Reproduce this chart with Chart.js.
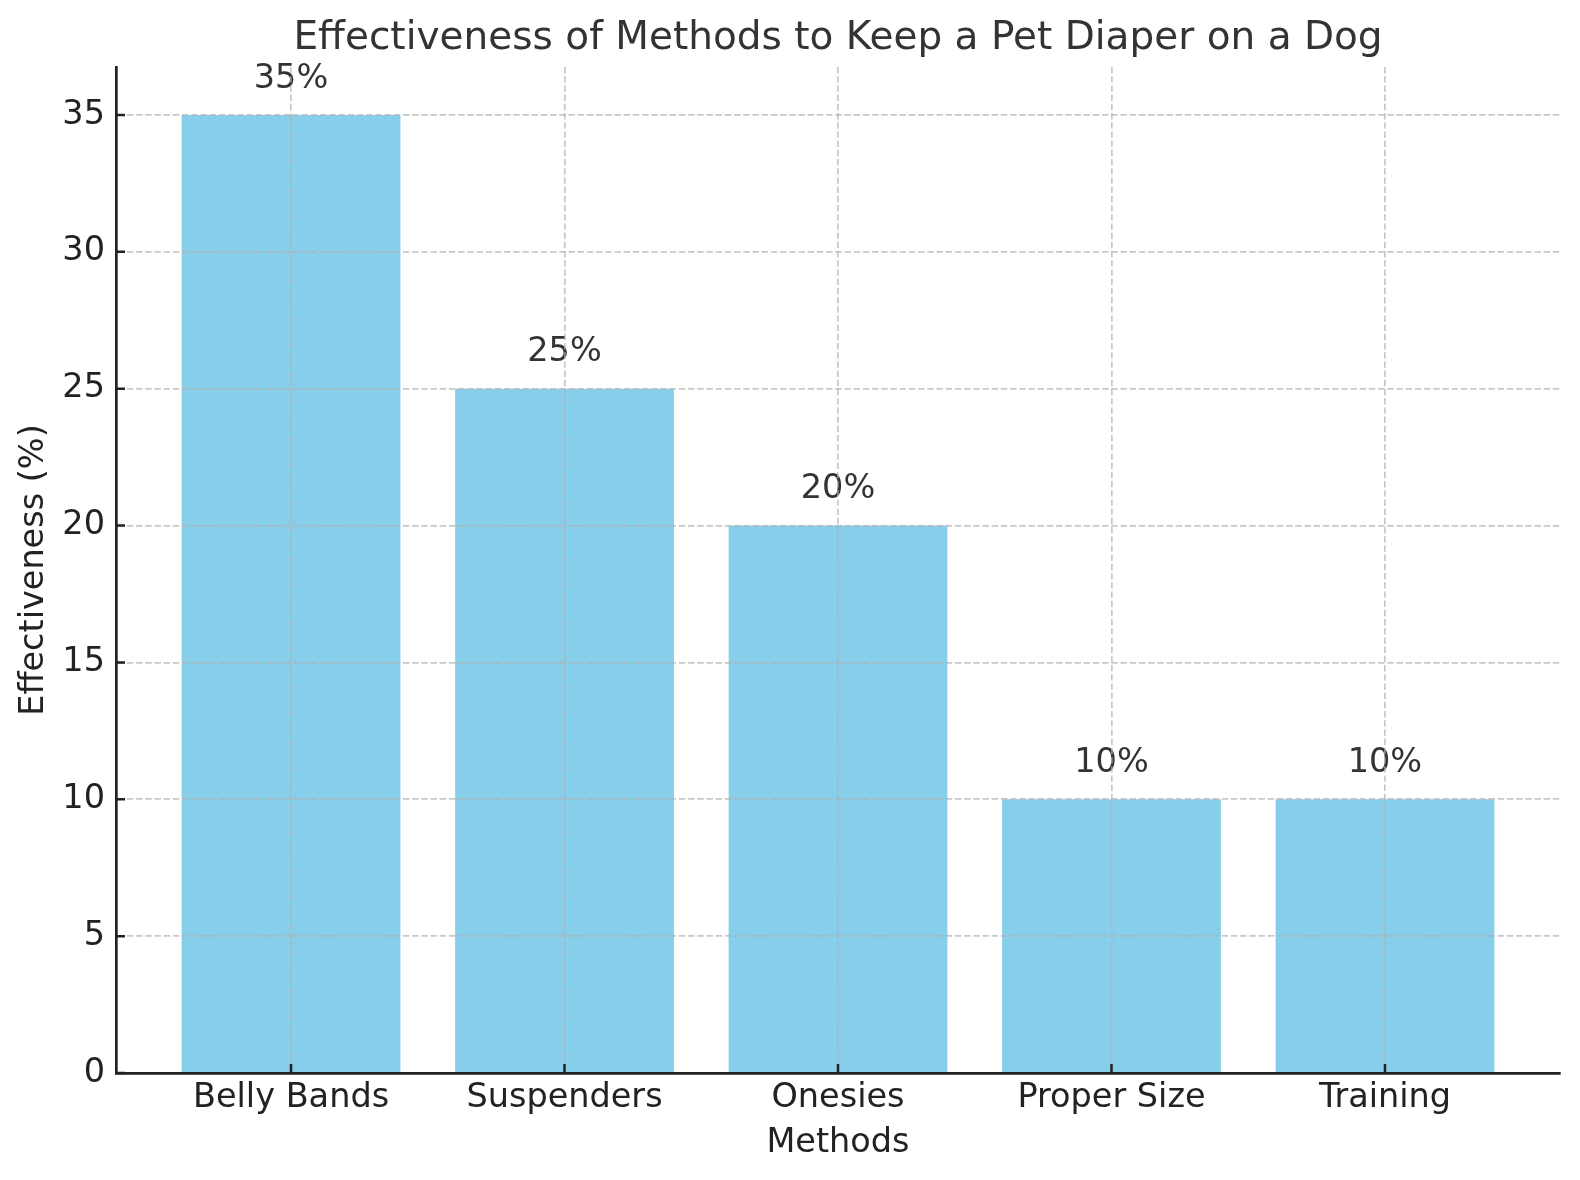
<!DOCTYPE html>
<html>
<head>
<meta charset="utf-8">
<script src="https://cdn.jsdelivr.net/npm/chart.js@4.4.1/dist/chart.umd.min.js"></script>
<style>
  html, body { margin: 0; padding: 0; background: #fff; }
  #wrap { width: 1580px; height: 1180px; }
</style>
</head>
<body>
<div id="wrap"><canvas id="chart" width="1580" height="1180"></canvas></div>
<script>
const methods = ['Belly Bands', 'Suspenders', 'Onesies', 'Proper Size', 'Training'];
const effectiveness = [35, 25, 20, 10, 10];
const chartTitle = 'Effectiveness of Methods to Keep a Pet Diaper on a Dog';
const xTitle = 'Methods';
const yTitle = 'Effectiveness (%)';

const FONT = 'DejaVu Sans';
const tickFont = { family: FONT, size: 33.5, weight: 'normal', lineHeight: 1.2 };
const gridColor = 'rgba(176,176,176,0.7)';
// no grid line on top of the axis spine itself
const gridAt = c => (c.tick && c.tick.value === 0 ? 'rgba(0,0,0,0)' : gridColor);

// matplotlib style: ticks pointing into the plot
const innerTicks = {
  id: 'innerTicks',
  afterDraw(chart) {
    const { ctx, chartArea, scales: { x, y } } = chart;
    ctx.save();
    ctx.strokeStyle = '#222';
    ctx.lineWidth = 2.5;
    ctx.beginPath();
    x.ticks.forEach(t => {
      const px = x.getPixelForValue(t.value);
      ctx.moveTo(px, chartArea.bottom);
      ctx.lineTo(px, chartArea.bottom - 9);
    });
    y.ticks.forEach(t => {
      const py = y.getPixelForValue(t.value);
      ctx.moveTo(chartArea.left, py);
      ctx.lineTo(chartArea.left + 9, py);
    });
    ctx.stroke();
    ctx.restore();
  }
};

// percentage text above every bar
const valueLabels = {
  id: 'valueLabels',
  afterDatasetsDraw(chart) {
    const { ctx, scales: { x, y } } = chart;
    ctx.save();
    ctx.fillStyle = '#333';
    ctx.font = `33.5px "${FONT}"`;
    ctx.textAlign = 'center';
    ctx.textBaseline = 'alphabetic';
    effectiveness.forEach((v, i) => {
      ctx.fillText(v + '%', x.getPixelForValue(i), y.getPixelForValue(v + 1));
    });
    ctx.restore();
  }
};

const ctx = document.getElementById('chart');
new Chart(ctx, {
  type: 'bar',
  data: {
    datasets: [{
      data: effectiveness.map((v, i) => ({ x: i, y: v })),
      backgroundColor: '#87CEEB',
      borderWidth: 0,
      categoryPercentage: 1,
      barPercentage: 0.8
    }]
  },
  options: {
    responsive: false,
    animation: false,
    devicePixelRatio: 1,
    layout: { padding: { left: 0, right: 20, top: 0, bottom: 0 } },
    plugins: {
      legend: { display: false },
      tooltip: { enabled: false },
      title: {
        display: true,
        fullSize: false,
        text: chartTitle,
        color: '#333',
        font: { family: FONT, size: 39, weight: 'normal', lineHeight: 1.2 },
        padding: { top: 15.5, bottom: 4.7 }
      }
    },
    scales: {
      x: {
        type: 'linear',
        min: -0.64,
        max: 4.64,
        offset: false,
        ticks: {
          stepSize: 1,
          includeBounds: false,
          autoSkip: false,
          maxRotation: 0,
          color: '#222',
          font: tickFont,
          padding: 5,
          callback: v => methods[v] ?? ''
        },
        grid: { color: gridColor, lineWidth: 1.7, drawTicks: false, offset: false, z: 1 },
        border: { color: '#222', width: 2.7, dash: [6.4, 2.8], z: 1 },
        title: {
          display: true,
          text: xTitle,
          color: '#222',
          font: tickFont,
          padding: { top: 0, bottom: 17 }
        },
        afterFit: s => { s.height = 107; }
      },
      y: {
        min: 0,
        max: 36.75,
        ticks: {
          stepSize: 5,
          includeBounds: false,
          color: '#222',
          font: tickFont,
          padding: 11
        },
        grid: { color: gridAt, lineWidth: 1.7, drawTicks: false, offset: false, z: 1 },
        border: { color: '#222', width: 2.7, dash: [6.4, 2.8], z: 1 },
        title: {
          display: true,
          text: yTitle,
          color: '#222',
          font: tickFont,
          padding: { top: 14, bottom: 0 }
        },
        afterFit: s => { s.width = 116; }
      }
    }
  },
  plugins: [innerTicks, valueLabels]
});
</script>
</body>
</html>
